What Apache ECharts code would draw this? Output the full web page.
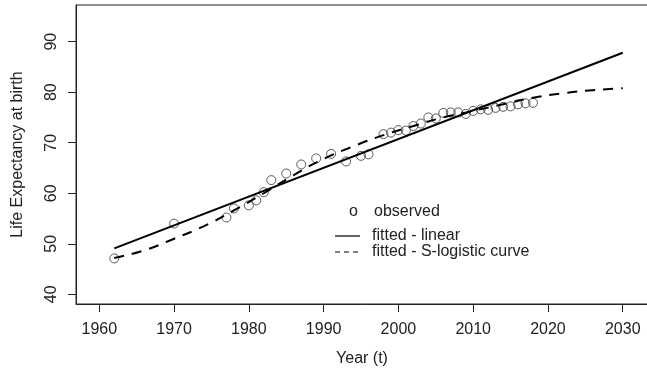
<!DOCTYPE html>
<html>
<head>
<meta charset="utf-8">
<script src="https://cdn.jsdelivr.net/npm/echarts@6/dist/echarts.min.js"></script>
<style>
  html, body { margin: 0; padding: 0; background: #fff; }
  #chart { width: 647px; height: 373px; }
</style>
</head>
<body>
<div id="chart"></div>
<script>
// observed life expectancy (year, years)
const obsYears = [1962, 1970, 1977, 1978, 1980, 1981, 1982, 1983, 1985, 1987, 1989, 1991, 1993, 1995, 1996,
  1998, 1999, 2000, 2001, 2002, 2003, 2004, 2005, 2006, 2007, 2008, 2009, 2010, 2011, 2012, 2013,
  2014, 2015, 2016, 2017, 2018]
const obsValues = [47.1, 54.0, 55.2, 57.0, 57.6, 58.6, 60.2, 62.6, 63.9, 65.7, 66.9, 67.8, 66.3, 67.4, 67.7,
  71.7, 72.0, 72.5, 72.4, 73.3, 73.8, 75.0, 74.8, 75.9, 76.0, 76.0, 75.7, 76.3, 76.6, 76.5, 76.9,
  77.1, 77.2, 77.6, 77.8, 77.9]

// fitted linear trend
const linYears = [1962, 2030]
const linValues = [49.1, 87.8]

// fitted S-logistic curve
const logYears = [1962, 1966, 1970, 1974, 1978, 1982, 1986, 1990, 1994, 1998, 2002, 2006, 2010, 2014, 2018, 2022, 2026, 2030]
const logValues = [47.2, 48.7, 51.0, 53.5, 56.6, 60.0, 63.6, 66.8, 69.3, 71.5, 73.3, 75.0, 76.3, 77.6, 78.9, 79.8, 80.4, 80.8]

const xTicks = [1960, 1970, 1980, 1990, 2000, 2010, 2020, 2030]
const yTicks = [40, 50, 60, 70, 80, 90]

const zip = (xs, ys) => xs.map((x, i) => [x, ys[i]])

const font = 'Liberation Sans, Arial, sans-serif'
const ink = '#222'
const fs = 16

const chart = echarts.init(document.getElementById('chart'), null, {renderer: 'canvas'})

chart.setOption({
  animation: false,
  grid: {
    left: 76,
    top: 5,
    width: 572,
    height: 299,
    outerBoundsMode: 'none',
    containLabel: false,
    show: true,
    borderColor: ink,
    borderWidth: 1,
  },
  xAxis: {
    type: 'value',
    min: 1956.88,
    max: 2033.38,
    name: 'Year (t)',
    nameLocation: 'middle',
    nameGap: 47,
    nameTextStyle: {fontFamily: font, fontSize: fs, color: ink},
    axisLine: {show: true, lineStyle: {color: ink}},
    axisTick: {show: true, length: 8, customValues: xTicks, lineStyle: {color: ink}},
    axisLabel: {customValues: xTicks, margin: 18, fontFamily: font, fontSize: fs, color: ink, formatter: v => String(v)},
    splitLine: {show: false},
  },
  yAxis: {
    type: 'value',
    min: 38.08,
    max: 97.26,
    name: 'Life Expectancy at birth',
    nameLocation: 'middle',
    nameGap: 50,
    nameTextStyle: {fontFamily: font, fontSize: fs, color: ink},
    axisLine: {show: true, lineStyle: {color: ink}},
    axisTick: {show: true, length: 8, customValues: yTicks, lineStyle: {color: ink}},
    axisLabel: {customValues: yTicks, rotate: 90, margin: 16, fontFamily: font, fontSize: fs, color: ink, formatter: v => String(v)},
    splitLine: {show: false},
  },
  series: [
    {
      name: 'fitted - linear',
      type: 'line',
      data: zip(linYears, linValues),
      showSymbol: false,
      lineStyle: {color: '#000', width: 2},
    },
    {
      name: 'fitted - S-logistic curve',
      type: 'line',
      smooth: true,
      data: zip(logYears, logValues),
      showSymbol: false,
      lineStyle: {color: '#000', width: 2, type: [10, 8]},
    },
    {
      name: 'observed',
      type: 'scatter',
      data: zip(obsYears, obsValues),
      symbol: 'circle',
      symbolSize: 9,
      itemStyle: {color: 'rgba(255,255,255,0)', borderColor: '#333', borderWidth: 1},
    },
  ],
  // legend drawn like the R one: no box, sample + label
  graphic: [
    {type: 'text', left: 349, top: 204, style: {text: 'o', font: fs + 'px ' + font, fill: ink}},
    {type: 'text', left: 374, top: 204, style: {text: 'observed', font: fs + 'px ' + font, fill: ink}},
    {type: 'line', shape: {x1: 335, y1: 236, x2: 360, y2: 236}, style: {stroke: '#000', lineWidth: 1.2}},
    {type: 'text', left: 372, top: 228, style: {text: 'fitted - linear', font: fs + 'px ' + font, fill: ink}},
    {type: 'line', shape: {x1: 335, y1: 252, x2: 360, y2: 252}, style: {stroke: '#000', lineWidth: 1.2, lineDash: [5, 4]}},
    {type: 'text', left: 372, top: 244, style: {text: 'fitted - S-logistic curve', font: fs + 'px ' + font, fill: ink}},
  ],
})
</script>
</body>
</html>
